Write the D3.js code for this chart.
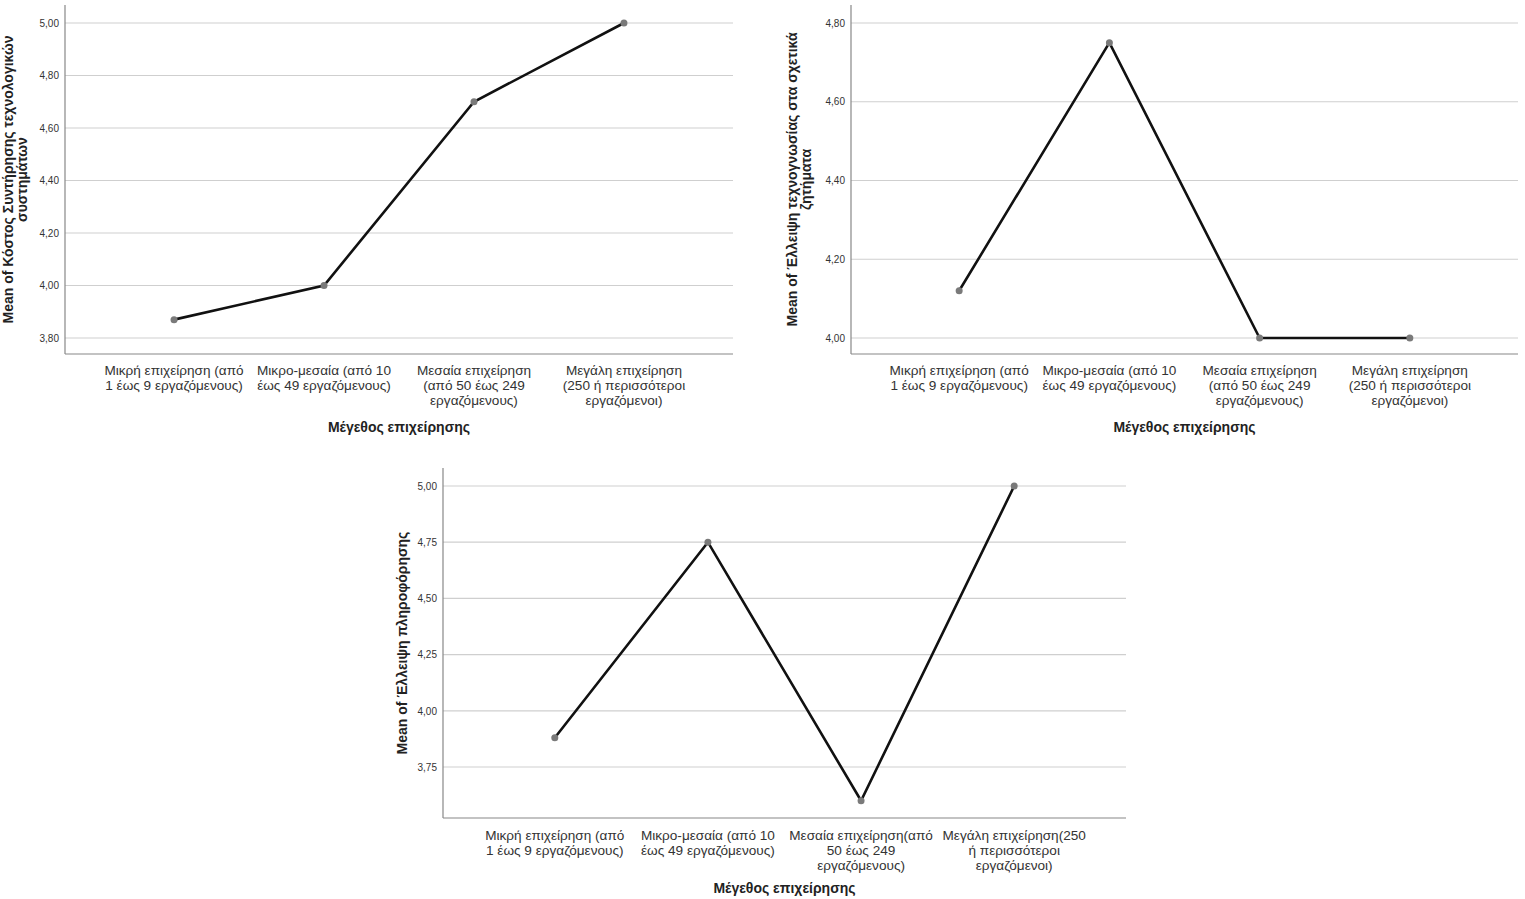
<!DOCTYPE html>
<html><head><meta charset="utf-8">
<script src="https://cdn.jsdelivr.net/npm/d3@7"></script>
<style>
body{margin:0;background:#fff;}
svg{display:block;font-family:"Liberation Sans",Arial,sans-serif;}
</style></head>
<body>
<svg id="c" width="1525" height="899"></svg>
<script>
const categoriesTop = [
  ["Μικρή επιχείρηση (από", "1 έως 9 εργαζόμενους)"],
  ["Μικρο-μεσαία (από 10", "έως 49 εργαζόμενους)"],
  ["Μεσαία επιχείρηση", "(από 50 έως 249", "εργαζόμενους)"],
  ["Μεγάλη επιχείρηση", "(250 ή περισσότεροι", "εργαζόμενοι)"]
];
const categoriesBottom = [
  ["Μικρή επιχείρηση (από", "1 έως 9 εργαζόμενους)"],
  ["Μικρο-μεσαία (από 10", "έως 49 εργαζόμενους)"],
  ["Μεσαία επιχείρηση(από", "50 έως 249", "εργαζόμενους)"],
  ["Μεγάλη επιχείρηση(250", "ή περισσότεροι", "εργαζόμενοι)"]
];
const xTitle = "Μέγεθος επιχείρησης";

const values1 = [3.87, 4.00, 4.70, 5.00];
const values2 = [4.12, 4.75, 4.00, 4.00];
const values3 = [3.88, 4.75, 3.60, 5.00];

const ticks1 = [3.80, 4.00, 4.20, 4.40, 4.60, 4.80, 5.00];
const ticks2 = [4.00, 4.20, 4.40, 4.60, 4.80];
const ticks3 = [3.75, 4.00, 4.25, 4.50, 4.75, 5.00];

const yTitle1 = ["Mean of Κόστος Συντήρησης τεχνολογικών", "συστημάτων"];
const yTitle2 = ["Mean of Έλλειψη τεχνογνωσίας στα σχετικά", "ζητήματα"];
const yTitle3 = ["Mean of Έλλειψη πληροφόρησης"];

const svg = d3.select("#c");
const fmt = v => d3.format(".2f")(v).replace(".", ",");

function drawChart(o) {
  const g = svg.append("g");
  const x = d3.scalePoint().domain(d3.range(o.values.length))
    .range([o.left, o.right]).padding(o.pad);
  // linear scale anchored on the lowest and highest tick gridlines (extends beyond)
  const y = d3.scaleLinear().domain([o.ticks[0], o.ticks[o.ticks.length - 1]]).range(o.yPix);

  g.append("g").selectAll("line").data(o.ticks).join("line")
    .attr("x1", o.left).attr("x2", o.right)
    .attr("y1", d => y(d)).attr("y2", d => y(d))
    .attr("stroke", "#cfcfcf").attr("stroke-width", 1.2);

  const ya = d3.axisLeft(y).tickValues(o.ticks).tickFormat(fmt).tickSize(0).tickPadding(6);
  const yg = g.append("g").attr("transform", `translate(${o.left},0)`).call(ya);
  yg.select(".domain").remove();
  yg.selectAll("text").attr("font-size", 10).attr("fill", "#333")
    .attr("font-family", "'Liberation Sans',Arial,sans-serif");

  g.append("line").attr("x1", o.left).attr("x2", o.left).attr("y1", o.top0).attr("y2", o.bottom)
    .attr("stroke", "#888").attr("stroke-width", 1.2);
  g.append("line").attr("x1", o.left).attr("x2", o.right).attr("y1", o.bottom).attr("y2", o.bottom)
    .attr("stroke", "#888").attr("stroke-width", 1.2);

  const xl = g.append("g").selectAll("text").data(o.cats).join("text")
    .attr("x", (d, i) => x(i)).attr("y", o.bottom + o.lblOff)
    .attr("text-anchor", "middle").attr("font-size", 13.6).attr("fill", "#333");
  xl.selectAll("tspan").data(d => d).join("tspan")
    .attr("x", function() { return d3.select(this.parentNode).attr("x"); })
    .attr("dy", (d, i) => i === 0 ? 0 : 15)
    .text(d => d);

  g.append("text").attr("x", (o.left + o.right) / 2).attr("y", o.bottom + o.titleOff)
    .attr("text-anchor", "middle").attr("font-size", 14).attr("font-weight", "bold")
    .attr("fill", "#222").text(xTitle);

  const yt = g.append("text")
    .attr("transform", `translate(${o.ytx},${(o.top0 + o.bottom) / 2}) rotate(-90)`)
    .attr("text-anchor", "middle").attr("font-size", 14).attr("font-weight", "bold").attr("fill", "#222");
  yt.selectAll("tspan").data(o.yTitle).join("tspan")
    .attr("x", 0).attr("dy", (d, i) => i === 0 ? 0 : 14).text(d => d);

  const line = d3.line().x((d, i) => x(i)).y(d => y(d));
  g.append("path").datum(o.values).attr("d", line)
    .attr("fill", "none").attr("stroke", "#111").attr("stroke-width", 2.6)
    .attr("stroke-linejoin", "miter");

  g.append("g").selectAll("circle").data(o.values).join("circle")
    .attr("cx", (d, i) => x(i)).attr("cy", d => y(d)).attr("r", 3.5)
    .attr("fill", "#7a7a7a");
}

drawChart({values: values1, ticks: ticks1, cats: categoriesTop, yTitle: yTitle1,
  left: 65, right: 733, top0: 5, bottom: 354, yPix: [338, 23], pad: 0.727,
  ytx: 13, lblOff: 21, titleOff: 78});
drawChart({values: values2, ticks: ticks2, cats: categoriesTop, yTitle: yTitle2,
  left: 851, right: 1518, top0: 5, bottom: 354, yPix: [338, 23], pad: 0.72,
  ytx: 797, lblOff: 21, titleOff: 78});
drawChart({values: values3, ticks: ticks3, cats: categoriesBottom, yTitle: yTitle3,
  left: 443, right: 1126, top0: 468, bottom: 818, yPix: [767, 486], pad: 0.73,
  ytx: 407, lblOff: 22, titleOff: 75});
</script>
</body></html>
